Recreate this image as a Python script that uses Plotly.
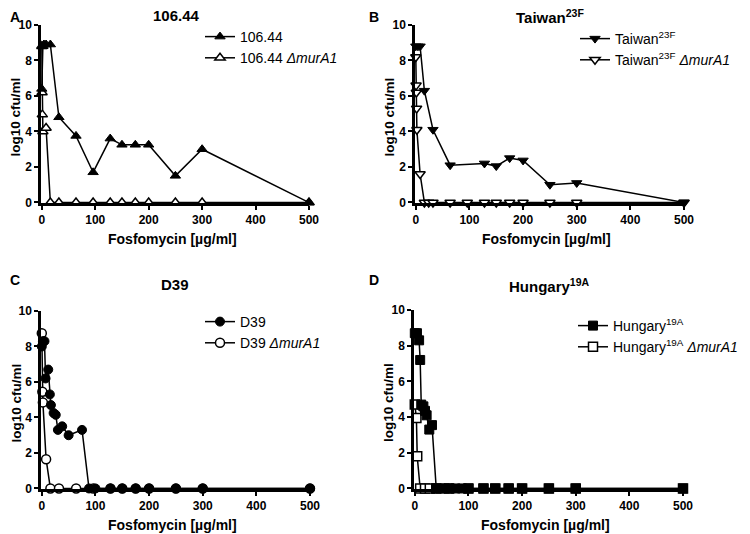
import plotly.graph_objects as go

# Panel A - 106.44
a_wt_x = [0, 2, 4, 8, 16, 32, 64, 96, 128, 150, 175, 200, 250, 300, 500]
a_wt_y = [6.4, 8.8, 8.9, 8.9, 8.9, 4.8, 3.75, 1.7, 3.6, 3.25, 3.25, 3.25, 1.5, 3.0, 0]
a_mut_x = [0, 0.5, 1, 2, 8, 16, 32, 64, 96, 128, 150, 175, 200, 250, 300, 500]
a_mut_y = [8.8, 6.2, 4.95, 4.0, 4.2, 0, 0, 0, 0, 0, 0, 0, 0, 0, 0, 0]

# Panel B - Taiwan 23F
b_wt_x = [0, 4, 8, 16, 32, 64, 128, 150, 175, 200, 250, 300, 500]
b_wt_y = [8.8, 8.8, 8.8, 6.3, 4.1, 2.1, 2.2, 2.05, 2.5, 2.37, 1.0, 1.1, 0]
b_mut_x = [0, 0.5, 1, 1.5, 2, 8, 16, 24, 32, 64, 96, 128, 150, 175, 200, 250, 300, 500]
b_mut_y = [8.2, 6.6, 6.2, 5.3, 4.1, 1.6, 0, 0, 0, 0, 0, 0, 0, 0, 0, 0, 0, 0]

# Panel C - D39
c_wt_x = [0, 2, 5, 7, 12, 15, 17, 22, 26, 30, 38, 50, 75, 88, 100, 128, 150, 175, 200, 250, 300, 500]
c_wt_y = [8.0, 8.3, 8.3, 6.2, 6.7, 5.3, 4.7, 4.25, 4.15, 3.3, 3.5, 3.0, 3.3, 0, 0, 0, 0, 0, 0, 0, 0, 0]
c_mut_x = [0, 1, 2, 8, 16, 32, 64, 96, 128, 150, 175, 200, 250, 300, 500]
c_mut_y = [8.75, 5.45, 4.85, 1.65, 0, 0, 0, 0, 0, 0, 0, 0, 0, 0, 0]

# Panel D - Hungary 19A
d_wt_x = [0, 4, 8, 10, 12, 16, 19, 22, 27, 32, 40, 48, 56, 64, 76, 88, 100, 128, 150, 175, 200, 250, 300, 500]
d_wt_y = [8.7, 8.7, 8.3, 7.2, 4.7, 4.6, 4.35, 4.1, 3.3, 3.55, 0, 0, 0, 0, 0, 0, 0, 0, 0, 0, 0, 0, 0, 0]
d_mut_x = [0, 3, 4.5, 10, 19, 28, 40, 64, 100, 128, 150, 175, 200, 250, 300, 500]
d_mut_y = [4.7, 3.95, 1.8, 0, 0, 0, 0, 0, 0, 0, 0, 0, 0, 0, 0, 0]

x_ticks = [0, 100, 200, 300, 400, 500]
y_ticks = [0, 2, 4, 6, 8, 10]

FONT = "Liberation Sans, Arial, sans-serif"
W, H = 750, 534
OFF = 8  # the page body margin shifts the figure by 8px


def px(x):
    return (x - OFF) / W


def py(y):
    return 1 - (y - OFF) / H


# page pixel boxes: (x at 0, x at 500, y at 0, y at 10)
boxes = {
    1: (41, 309, 203, 25),
    2: (415, 684, 203, 25),
    3: (41, 310, 489, 311),
    4: (414, 683, 489, 310),
}

fig = go.Figure()


def add_panel(n, wx, wy, mx, my, sym, wt_name, mut_name):
    xa = "x" if n == 1 else f"x{n}"
    ya = "y" if n == 1 else f"y{n}"
    leg = "legend" if n == 1 else f"legend{n}"
    # mutant drawn first so the wild-type markers sit on top
    fig.add_trace(go.Scatter(
        x=mx, y=my, mode="lines+markers", name=mut_name, legendrank=2,
        xaxis=xa, yaxis=ya, legend=leg, cliponaxis=False,
        line=dict(color="black", width=1.5),
        marker=dict(symbol=sym, size=9, color="white", line=dict(color="black", width=1.5)),
    ))
    fig.add_trace(go.Scatter(
        x=wx, y=wy, mode="lines+markers", name=wt_name, legendrank=1,
        xaxis=xa, yaxis=ya, legend=leg, cliponaxis=False,
        line=dict(color="black", width=1.5),
        marker=dict(symbol=sym, size=9, color="black", line=dict(color="black", width=1)),
    ))
    x0, x1, y0, y1 = boxes[n]
    axis_common = dict(
        showline=True, linecolor="black", linewidth=2.5,
        ticks="outside", ticklen=4, tickwidth=2, tickcolor="black",
        showgrid=False, zeroline=False, automargin=False,
        tickfont=dict(family=FONT, size=12, color="black", weight="bold"),
    )
    fig.update_layout({
        ("xaxis" if n == 1 else f"xaxis{n}"): dict(
            domain=[px(x0), px(x1)], anchor=ya, range=[-1.5, 500],
            tickvals=x_ticks, **axis_common),
        ("yaxis" if n == 1 else f"yaxis{n}"): dict(
            domain=[py(y0), py(y1)], anchor=xa, range=[-0.03, 10],
            tickvals=y_ticks, **axis_common),
    })
    # axis titles
    fig.add_annotation(x=px((x0 + x1) / 2 - 3), y=py(y0 + 36), xref="paper", yref="paper",
                       text="Fosfomycin [µg/ml]", showarrow=False,
                       xanchor="center", yanchor="middle",
                       font=dict(family=FONT, size=14, color="black", weight="bold"))
    fig.add_annotation(x=px(x0 - 25.5), y=py((y0 + y1) / 2 + 3), xref="paper", yref="paper",
                       text="log10 cfu/ml", showarrow=False, textangle=-90,
                       xanchor="center", yanchor="middle",
                       font=dict(family=FONT, size=13.5, color="black", weight="bold"))


add_panel(1, a_wt_x, a_wt_y, a_mut_x, a_mut_y, "triangle-up",
          "106.44", "106.44 <i>ΔmurA1</i>")
add_panel(2, b_wt_x, b_wt_y, b_mut_x, b_mut_y, "triangle-down",
          "Taiwan<sup>23F</sup>", "Taiwan<sup>23F</sup> <i>ΔmurA1</i>")
add_panel(3, c_wt_x, c_wt_y, c_mut_x, c_mut_y, "circle",
          "D39", "D39 <i>ΔmurA1</i>")
add_panel(4, d_wt_x, d_wt_y, d_mut_x, d_mut_y, "square",
          "Hungary<sup>19A</sup>", "Hungary<sup>19A</sup> <i>ΔmurA1</i>")

legend_style = dict(font=dict(family=FONT, size=14, color="black"),
                    bgcolor="rgba(0,0,0,0)", itemwidth=30, tracegroupgap=0,
                    xanchor="left", yanchor="top")
fig.update_layout(
    legend=dict(x=px(200), y=py(21), **legend_style),
    legend2=dict(x=px(575), y=py(23), **legend_style),
    legend3=dict(x=px(200), y=py(306), **legend_style),
    legend4=dict(x=px(573), y=py(310), **legend_style),
)

titles = [
    (176, 15, "106.44"), (550, 16, "Taiwan<sup>23F</sup>"),
    (175, 284, "D39"), (549, 285, "Hungary<sup>19A</sup>"),
]
for x, y, t in titles:
    fig.add_annotation(x=px(x), y=py(y), xref="paper", yref="paper",
                       text=t, showarrow=False, xanchor="center", yanchor="middle",
                       font=dict(family=FONT, size=15, color="black", weight="bold"))
letters = [(8, 7, "A"), (367, 7, "B"), (8, 270, "C"), (367, 270, "D")]
for x, y, t in letters:
    fig.add_annotation(x=px(x), y=py(y), xref="paper", yref="paper",
                       text=t, showarrow=False, xanchor="left", yanchor="top",
                       font=dict(family=FONT, size=14, color="black", weight="bold"))

fig.update_layout(
    width=W, height=H,
    margin=dict(l=0, r=0, t=0, b=0, autoexpand=False),
    plot_bgcolor="white", paper_bgcolor="white",
    font=dict(family=FONT, color="black"),
)

fig.write_html("out.html")
